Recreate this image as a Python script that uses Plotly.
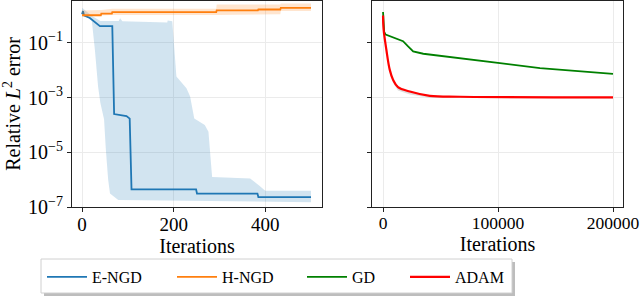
import plotly.graph_objects as go

# ---------------- data ----------------
# Left panel: E-NGD and H-NGD (iterations 0..500)
engd_iter = [0, 2, 4, 17, 39, 66, 70, 97, 104, 108, 249, 251, 383, 385, 500]
engd_med = [1.12, 1.45, 1.02, 0.81, 0.41, 0.41, 2.5e-4, 2.1e-4, 1.7e-4, 4.4e-7,
            4.4e-7, 3.1e-7, 3.1e-7, 2.3e-7, 2.3e-7]
engd_up_iter = [0, 5, 20, 40, 80, 83, 88, 186, 187, 197, 206, 228, 236, 245,
                268, 276, 284, 367, 378, 386, 400, 500]
engd_up = [1.9, 1.6, 1.0, 0.63, 0.63, 0.8, 0.62, 0.56, 0.65, 0.62, 5.9e-3,
           2.2e-3, 1.1e-3, 1.7e-4, 1.0e-4, 5.6e-5, 1.26e-6, 1.1e-6, 8.3e-7,
           6.3e-7, 3.9e-7, 3.9e-7]
engd_lo_iter = [0, 10, 21, 28, 35, 40, 48, 52, 57, 61, 79, 500]
engd_lo = [1.0, 0.89, 0.71, 5.6e-2, 2.5e-3, 6.3e-4, 1.6e-4, 1.2e-5, 1.0e-6,
           3.1e-7, 1.8e-7, 1.5e-7]

hngd_iter = [0, 41, 42, 65, 66, 293, 294, 384, 385, 433, 434, 500]
hngd_med = [1.02, 1.02, 1.17, 1.17, 1.32, 1.32, 1.55, 1.55, 1.66, 1.66, 1.9, 1.9]
hngd_b_iter = [0, 42, 66, 293, 294, 433, 434, 500]
hngd_up = [1.51, 1.58, 1.78, 1.78, 2.51, 2.51, 2.75, 2.75]
hngd_lo = [0.93, 1.0, 1.05, 1.05, 1.07, 1.12, 1.45, 1.45]

# Right panel: GD and ADAM (iterations 0..200000)
gd_iter = [0, 1000, 2300, 17400, 21800, 26200, 35000, 58000, 101700, 136500,
           161000, 200000]
gd_med = [1.35, 0.25, 0.20, 0.115, 0.074, 0.049, 0.040, 0.030, 0.018, 0.012,
          0.0098, 0.0074]
adam_iter = [0, 500, 2900, 5800, 8700, 13000, 23300, 40700, 67000, 200000]
adam_med = [1.0, 0.31, 0.056, 0.0105, 0.0045, 0.0024, 0.00166, 0.00115,
            0.00107, 0.00102]
adam_lo = [0.95, 0.27, 0.045, 0.0085, 0.0035, 0.0018, 0.0013, 0.00098,
           0.00095, 0.00092]
adam_up = [1.05, 0.33, 0.06, 0.011, 0.0047, 0.0025, 0.0017, 0.0012, 0.0011,
           0.00105]

ytick_vals = [1e-7, 1e-5, 1e-3, 1e-1]
ytick_text = ["10<sup>−7</sup>", "10<sup>−5</sup>", "10<sup>−3</sup>", "10<sup>−1</sup>"]
left_ticks = [0, 200, 400]
left_tick_text = ["0", "200", "400"]
right_ticks = [0, 100000, 200000]
right_tick_text = ["0", "100000", "200000"]

C_ENGD = "#1f77b4"
C_HNGD = "#ff7f0e"
C_GD = "#008000"
C_ADAM = "#ff0000"

FONT = "Liberation Serif"

# pixel geometry helpers
W, H = 640, 296
ML, MR, MT, MB = 72, 17, 1, 89
PW, PH = W - ML - MR, H - MT - MB


def px(xp):
    return (xp - ML) / PW


def py(yp):
    return (H - MB - yp) / PH


fig = go.Figure()


def band(x_up, y_up, x_lo, y_lo, color, xa, ya):
    fig.add_trace(go.Scatter(
        x=list(x_up) + list(x_lo)[::-1], y=list(y_up) + list(y_lo)[::-1],
        fill="toself", fillcolor=color, line=dict(width=0), mode="lines",
        showlegend=False, hoverinfo="skip", xaxis=xa, yaxis=ya))


def line(x, y, color, name, xa, ya, legend, width=1.8, shape="linear"):
    fig.add_trace(go.Scatter(x=x, y=y, mode="lines", name=name,
                             line=dict(color=color, width=width, shape=shape),
                             xaxis=xa, yaxis=ya, legend=legend))


band(engd_up_iter, engd_up, engd_lo_iter, engd_lo, "rgba(31,119,180,0.2)", "x", "y")
line(engd_iter, engd_med, C_ENGD, "E-NGD", "x", "y", "legend")
band(hngd_b_iter, hngd_up, hngd_b_iter, hngd_lo, "rgba(255,127,14,0.2)", "x", "y")
line(hngd_iter, hngd_med, C_HNGD, "H-NGD", "x", "y", "legend2")

line(gd_iter, gd_med, C_GD, "GD", "x2", "y2", "legend3")
band(adam_iter, adam_up, adam_iter, adam_lo, "rgba(150,150,150,0.3)", "x2", "y2")
line(adam_iter, adam_med, C_ADAM, "ADAM", "x2", "y2", "legend4", width=2.2,
     shape="spline")

axis_common = dict(
    showgrid=True, gridcolor="#ebebeb", gridwidth=1, zeroline=False,
    showline=True, linecolor="#222", linewidth=1, mirror=True,
    ticks="outside", ticklen=4, tickcolor="#222", automargin=False,
    ticklabeloverflow="allow",
)

leg_common = dict(orientation="h", xanchor="left", yanchor="middle",
                  y=py(277), bgcolor="rgba(0,0,0,0)", borderwidth=0,
                  font=dict(family=FONT, size=16, color="black"),
                  itemwidth=40)

fig.update_layout(
    width=W, height=H,
    margin=dict(l=ML, r=MR, t=MT, b=MB, autoexpand=False),
    paper_bgcolor="white", plot_bgcolor="white",
    font=dict(family=FONT, size=20, color="black"),
    xaxis=dict(domain=[0, px(322)], range=[-22, 524], tickvals=left_ticks,
               ticktext=left_tick_text, ticklabelstandoff=-4,
               tickfont=dict(family=FONT, size=19, color="black"),
               title=dict(text="Iterations", standoff=0,
                          font=dict(family=FONT, size=20)),
               anchor="y", **axis_common),
    yaxis=dict(type="log", range=[-7.0, 0.53], tickvals=ytick_vals,
               ticktext=ytick_text, anchor="x",
               tickfont=dict(family=FONT, size=20, color="black"),
               title=dict(text="Relative <i>L</i><sup>2</sup> error", standoff=16,
                          font=dict(family=FONT, size=20)),
               **axis_common),
    xaxis2=dict(domain=[px(372), 1], range=[-9600, 208700], tickvals=right_ticks,
                ticktext=right_tick_text, ticklabelstandoff=-4,
                tickfont=dict(family=FONT, size=17.5, color="black"),
                title=dict(text="Iterations", standoff=0,
                           font=dict(family=FONT, size=20)),
                anchor="y2", **axis_common),
    yaxis2=dict(type="log", range=[-7.0, 0.53], tickvals=ytick_vals,
                showticklabels=False, anchor="x2", **axis_common),
    legend=dict(x=px(42), **leg_common),
    legend2=dict(x=px(172), **leg_common),
    legend3=dict(x=px(302), **leg_common),
    legend4=dict(x=px(405), **leg_common),
    shapes=[
        # legend shadow
        dict(type="rect", xref="paper", yref="paper", layer="above",
             x0=px(44), x1=px(515), y0=py(262), y1=py(296),
             fillcolor="#bdbdbd", line=dict(width=0)),
        # legend frame
        dict(type="rect", xref="paper", yref="paper", layer="above",
             x0=px(41), x1=px(512), y0=py(259), y1=py(293),
             fillcolor="white", line=dict(color="#d0d0d0", width=1)),
    ],
)

fig.write_html("out.html", config={"displayModeBar": False},
               post_script="document.body.style.margin='0';")
